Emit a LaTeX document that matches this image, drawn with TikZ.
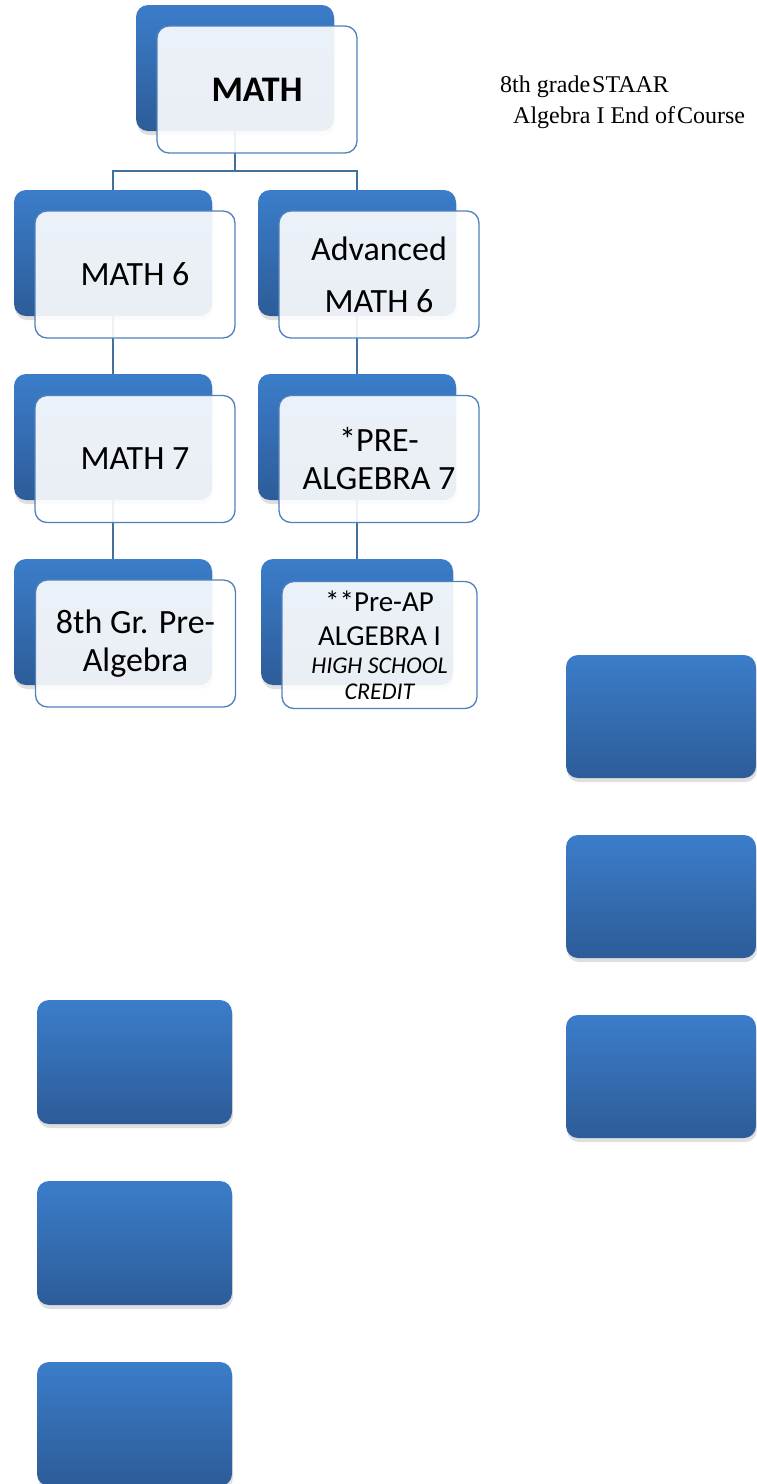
\documentclass[tikz,border=0pt]{standalone}
\usepackage{fontspec}
\setmainfont{Carlito}
\newfontfamily\notefont{Liberation Serif}
\usetikzlibrary{positioning,shadows}
\definecolor{boxtop}{HTML}{3B7DCA}
\definecolor{boxbot}{HTML}{2D5C98}
\definecolor{boxline}{HTML}{4F81BD}
\definecolor{connline}{HTML}{41719C}

\begin{document}
\begin{tikzpicture}[x=1pt,y=-1pt,
  backbox/.style={rounded corners=12pt,top color=boxtop,bottom color=boxbot,
    minimum width=198pt,minimum height=126pt,inner sep=0pt,
    drop shadow={shadow xshift=1pt,shadow yshift=-4pt,opacity=0.25}},
  blankbox/.style={backbox,minimum width=192pt,minimum height=124pt},
  frontbox/.style={rounded corners=12pt,draw=boxline,line width=1.3pt,
    fill=white,fill opacity=0.9,text opacity=1,
    minimum width=200pt,minimum height=127pt,inner sep=2pt,align=center,
    font=\fontsize{34}{38}\selectfont},
  conn/.style={draw=connline,line width=1.5pt}]
\useasboundingbox (0,0) rectangle (756,1484);
% --- back boxes ---
\node[backbox] (mathB) at (235,68) {};
\node[backbox] (m6B) at (113,253) {};
\node[backbox] (a6B) at (357,253) {};
\node[backbox] (m7B) at (113,437) {};
\node[backbox] (pa7B) at (357,437) {};
\node[backbox] (pa8B) at (113,622) {};
\node[backbox,minimum width=192pt] (alg1B) at (357,622) {};
% --- connectors ---
\draw[conn] (mathB.south) -- ++(0,40) -| (m6B.north);
\draw[conn] (mathB.south) ++(0,40) -| (a6B.north);
\draw[conn] (m6B.south) -- (m7B.north);
\draw[conn] (m7B.south) -- (pa8B.north);
\draw[conn] (a6B.south) -- (pa7B.north);
\draw[conn] (pa7B.south) -- (alg1B.north);
% --- front boxes ---
\node[frontbox,font=\fontsize{36}{40}\selectfont\bfseries] (math) at (257,89.5) {MATH};
\node[frontbox] (m6) at (135,274.5) {MATH 6};
\node[frontbox,font=\fontsize{34}{52}\selectfont] (a6) at (379,274.5) {Advanced\\MATH 6};
\node[frontbox] (m7) at (135,459) {MATH 7};
\node[frontbox] (pa7) at (379,459) {*PRE-\\ALGEBRA 7};
\node[frontbox] (pa8) at (135.5,643.5) {8th Gr. Pre-\\Algebra};
\node[frontbox,minimum width=195pt,font=\fontsize{29}{34}\selectfont] (alg1) at (379.5,645)
  {**Pre-AP\\ALGEBRA I\\[-6pt]{\fontsize{24}{27}\selectfont\itshape HIGH SCHOOL}\\[-8pt]{\fontsize{24}{27}\selectfont\itshape CREDIT}};
% --- note ---
\node[anchor=base west,inner sep=0pt,font=\notefont\fontsize{24}{27}\selectfont] (staar) at (500,92) {8th grade\hspace{2pt}STAAR};
\node[anchor=base west,inner sep=0pt,font=\notefont\fontsize{24}{27}\selectfont] (eoc) at (513,123) {Algebra I End of\hspace{2pt}Course};
% --- empty boxes ---
\node[blankbox,minimum width=190pt,minimum height=123pt] (r1) at (661,716.5) {};
\node[blankbox,minimum width=190pt,minimum height=123pt] (r2) at (661,896.5) {};
\node[blankbox,minimum width=190pt,minimum height=123pt] (r3) at (661,1076.5) {};
\node[blankbox,minimum width=195pt] (l1) at (134.5,1062) {};
\node[blankbox,minimum width=195pt] (l2) at (134.5,1243) {};
\node[blankbox,minimum width=195pt] (l3) at (134.5,1424) {};
\end{tikzpicture}
\end{document}
